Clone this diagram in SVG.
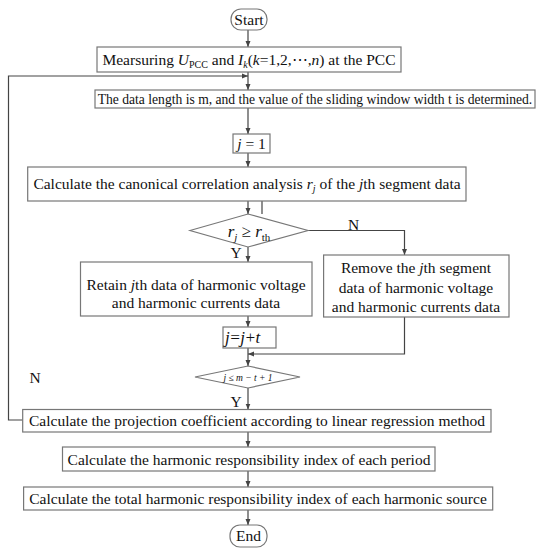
<svg xmlns="http://www.w3.org/2000/svg" width="543" height="550" viewBox="0 0 543 550">
<defs>
<style>
.box{fill:#fff;stroke:#777;stroke-width:1.2}
.ln{fill:none;stroke:#444;stroke-width:1.2}
.t{font-family:"Liberation Serif","Times New Roman",serif;font-size:15.5px;fill:#111;text-anchor:middle}
.i{font-style:italic}
.sub{font-size:10px}
</style>
<marker id="ah" markerWidth="6" markerHeight="6" refX="6" refY="3" orient="auto" markerUnits="userSpaceOnUse">
<path d="M0,0.5 L6,3 L0,5.5 z" fill="#444"/>
</marker>
</defs>
<rect width="543" height="550" fill="#fff"/>
<g id="connectors">
<line class="ln" x1="248" y1="30" x2="248" y2="47" marker-end="url(#ah)"/>
<line class="ln" x1="248" y1="72" x2="248" y2="90" marker-end="url(#ah)"/>
<line class="ln" x1="248" y1="108" x2="248" y2="134" marker-end="url(#ah)"/>
<line class="ln" x1="248" y1="153" x2="248" y2="167" marker-end="url(#ah)"/>
<line class="ln" x1="248" y1="201" x2="248" y2="214" marker-end="url(#ah)"/>
<line class="ln" x1="262" y1="201" x2="262" y2="214"/>
<polyline class="ln" points="308,230.5 404.5,230.5 404.5,255" marker-end="url(#ah)"/>
<line class="ln" x1="248" y1="247" x2="248" y2="262" marker-end="url(#ah)"/>
<line class="ln" x1="248" y1="316" x2="248" y2="327" marker-end="url(#ah)"/>
<polyline class="ln" points="404.5,317 404.5,354 248,354" marker-end="url(#ah)"/>
<line class="ln" x1="248" y1="348" x2="248" y2="366" marker-end="url(#ah)"/>
<line class="ln" x1="248" y1="388" x2="248" y2="409.5" marker-end="url(#ah)"/>
<polyline class="ln" points="22.7,420 8.5,420 8.5,76 248,76" marker-end="url(#ah)"/>
<line class="ln" x1="248" y1="432" x2="248" y2="447" marker-end="url(#ah)"/>
<line class="ln" x1="248" y1="471" x2="248" y2="487" marker-end="url(#ah)"/>
<line class="ln" x1="248" y1="510" x2="248" y2="525" marker-end="url(#ah)"/>
<text class="t" x="353.5" y="229.5">N</text>
<text class="t" x="236" y="258">Y</text>
<text class="t" x="35" y="383">N</text>
<text class="t" x="236" y="407">Y</text>
</g>
<g id="start">
<rect class="box" x="231" y="9" width="36" height="21" rx="10"/>
<text class="t" x="249" y="24.5">Start</text>
</g>
<g id="measure">
<rect class="box" x="97" y="47" width="304" height="25"/>
<text class="t" x="249" y="64.5">Mearsuring <tspan class="i">U</tspan><tspan class="sub" dy="3">PCC</tspan><tspan dy="-3"> and </tspan><tspan class="i">I</tspan><tspan class="i sub" dy="3">k</tspan><tspan dy="-3">(</tspan><tspan class="i">k</tspan>=1,2,⋯,<tspan class="i">n</tspan>) at the PCC</text>
</g>
<g id="datalength">
<rect class="box" x="95" y="90" width="440" height="18"/>
<text class="t" x="315" y="103.8" style="font-size:13.6px">The data length is m, and the value of the sliding window width t is determined.</text>
</g>
<g id="jinit">
<rect class="box" x="233" y="134" width="37" height="19"/>
<text class="t" x="251.5" y="149"><tspan class="i">j</tspan> = 1</text>
</g>
<g id="canonical">
<rect class="box" x="27.7" y="167" width="438.3" height="34"/>
<text class="t" x="247" y="189">Calculate the canonical correlation analysis <tspan class="i">r</tspan><tspan class="i sub" dy="3">j</tspan><tspan dy="-3"> of the </tspan><tspan class="i">j</tspan>th segment data</text>
</g>
<g id="decision1">
<polygon class="box" points="190,230.5 248,214 308,230.5 248,247"/>
<text class="t i" x="249" y="237" style="font-size:17px">r<tspan style="font-size:11px" dy="4">j</tspan><tspan dy="-4"> ≥ r</tspan><tspan style="font-size:11px;font-style:normal" dy="4">th</tspan></text>
</g>
<g id="retain">
<rect class="box" x="80.5" y="262" width="231.5" height="54"/>
<text class="t" x="196" y="290">Retain <tspan class="i">j</tspan>th data of harmonic voltage</text>
<text class="t" x="196" y="308">and harmonic currents data</text>
</g>
<g id="remove">
<rect class="box" x="323.6" y="255" width="185.4" height="62"/>
<text class="t" x="416" y="273">Remove the <tspan class="i">j</tspan>th segment</text>
<text class="t" x="416" y="292.5">data of harmonic voltage</text>
<text class="t" x="416" y="312">and harmonic currents data</text>
</g>
<g id="increment">
<rect class="box" x="223" y="327" width="53" height="21"/>
<text class="t i" x="225" y="343" style="font-size:17px;text-anchor:start;letter-spacing:-0.5px">j=j+t</text>
</g>
<g id="decision2">
<polygon class="box" points="195,377 248,366 300,377 248,388"/>
<text class="t i" x="248" y="380.5" style="font-size:9.5px">j ≤ m − t + 1</text>
</g>
<g id="projection">
<rect class="box" x="22.7" y="409.5" width="468.3" height="22.5"/>
<text class="t" x="257" y="426">Calculate the projection coefficient according to linear regression method</text>
</g>
<g id="period">
<rect class="box" x="62.5" y="447" width="372.5" height="24"/>
<text class="t" x="249" y="464.5">Calculate the harmonic responsibility index of each period</text>
</g>
<g id="total">
<rect class="box" x="23.6" y="487" width="469.1" height="23"/>
<text class="t" x="258" y="503.5">Calculate the total harmonic responsibility index of each harmonic source</text>
</g>
<g id="end">
<rect class="box" x="230" y="525" width="37" height="22" rx="10"/>
<text class="t" x="248.5" y="540.5">End</text>
</g>
</svg>
